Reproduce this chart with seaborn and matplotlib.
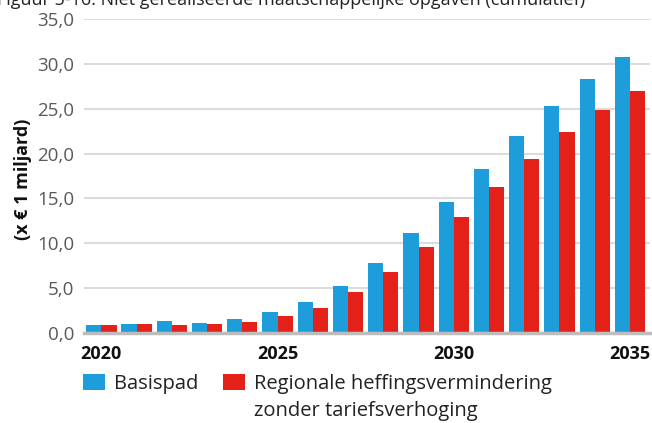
import matplotlib
matplotlib.use("Agg")
import matplotlib.pyplot as plt
import matplotlib.patches as mpatches
from matplotlib.ticker import FuncFormatter, MultipleLocator
import pandas as pd
import seaborn as sns

# Cumulative unrealised societal tasks (x € 1 billion), 2020-2035
years = list(range(2020, 2036))
basispad = [0.9, 1.0, 1.35, 1.15, 1.5, 2.35, 3.45, 5.25, 7.8, 11.1,
            14.6, 18.3, 22.0, 25.3, 28.3, 30.8]
regionaal = [0.9, 1.0, 0.9, 1.0, 1.2, 1.9, 2.8, 4.6, 6.8, 9.6,
             12.9, 16.3, 19.4, 22.4, 24.9, 27.0]

series_names = ["Basispad", "Regionale heffingsvermindering"]
second_line = "zonder tariefsverhoging"
colors = ["#1D9DD9", "#E32119"]
title = "Figuur 5-16: Niet gerealiseerde maatschappelijke opgaven (cumulatief)"
ylabel = "(x € 1 miljard)"
shown_years = [2020, 2025, 2030, 2035]

df = pd.DataFrame({
    "jaar": [str(y) for y in years] * 2,
    "waarde": basispad + regionaal,
    "scenario": [series_names[0]] * len(years) + [series_names[1]] * len(years),
})

sns.set_theme(style="white")
plt.rcParams["font.family"] = ["Open Sans", "DejaVu Sans"]

fig = plt.figure(figsize=(6.52, 4.23), dpi=100)
ax = fig.add_axes([0.129, 0.213, 0.868, 0.742])

sns.barplot(data=df, x="jaar", y="waarde", hue="scenario",
            palette=colors, width=0.86, gap=0, saturation=1,
            edgecolor="none", linewidth=0, ax=ax, legend=False, zorder=3)

ax.set_ylim(0, 35)
ax.set_xlim(-0.49, len(years) - 1 + 0.57)
ax.yaxis.set_major_locator(MultipleLocator(5))
ax.yaxis.set_major_formatter(FuncFormatter(lambda v, p: f"{v:.1f}".replace(".", ",")))
ax.grid(axis="y", color="#DCDCDC", linewidth=1.5, zorder=0)
ax.grid(axis="x", visible=False)
for side in ["top", "right", "left"]:
    ax.spines[side].set_visible(False)
ax.spines["bottom"].set_color("#BDBDBD")
ax.spines["bottom"].set_linewidth(2.5)
ax.spines["bottom"].set_zorder(4)

ax.tick_params(axis="y", length=0, pad=7, labelsize=13.5, labelcolor="#595959")
ax.tick_params(axis="x", length=0, pad=9, labelsize=13)
ax.set_xticks(range(len(years)))
ax.set_xticklabels([str(y) if y in shown_years else "" for y in years],
                   fontweight="bold", color="#111111")
ax.set_xlabel("")
ax.set_ylabel(ylabel, fontsize=13, fontweight="bold", color="#111111")
ax.yaxis.set_label_coords(-0.092, 0.49)

# Title line at the top edge of the figure
fig.text(-0.005, 1.0, title, ha="left", va="center", fontsize=13, color="#222222")

# Legend below the plot
handles = [mpatches.Patch(facecolor=c, edgecolor="none") for c in colors]
leg = fig.legend(handles, series_names, loc="upper left",
                 bbox_to_anchor=(0.127, 0.117), ncol=2, frameon=False,
                 fontsize=14.5, handlelength=1.1, handleheight=0.9,
                 handletextpad=0.45, columnspacing=1.2, borderaxespad=0,
                 borderpad=0, labelcolor="#222222")
fig.canvas.draw()
tb = leg.get_texts()[1].get_window_extent()
x0, y0 = fig.transFigure.inverted().transform((tb.x0, tb.y0))
fig.text(x0, y0 - 0.016, second_line, ha="left", va="top",
         fontsize=14.5, color="#222222")

fig.savefig("out.png", dpi=100)
